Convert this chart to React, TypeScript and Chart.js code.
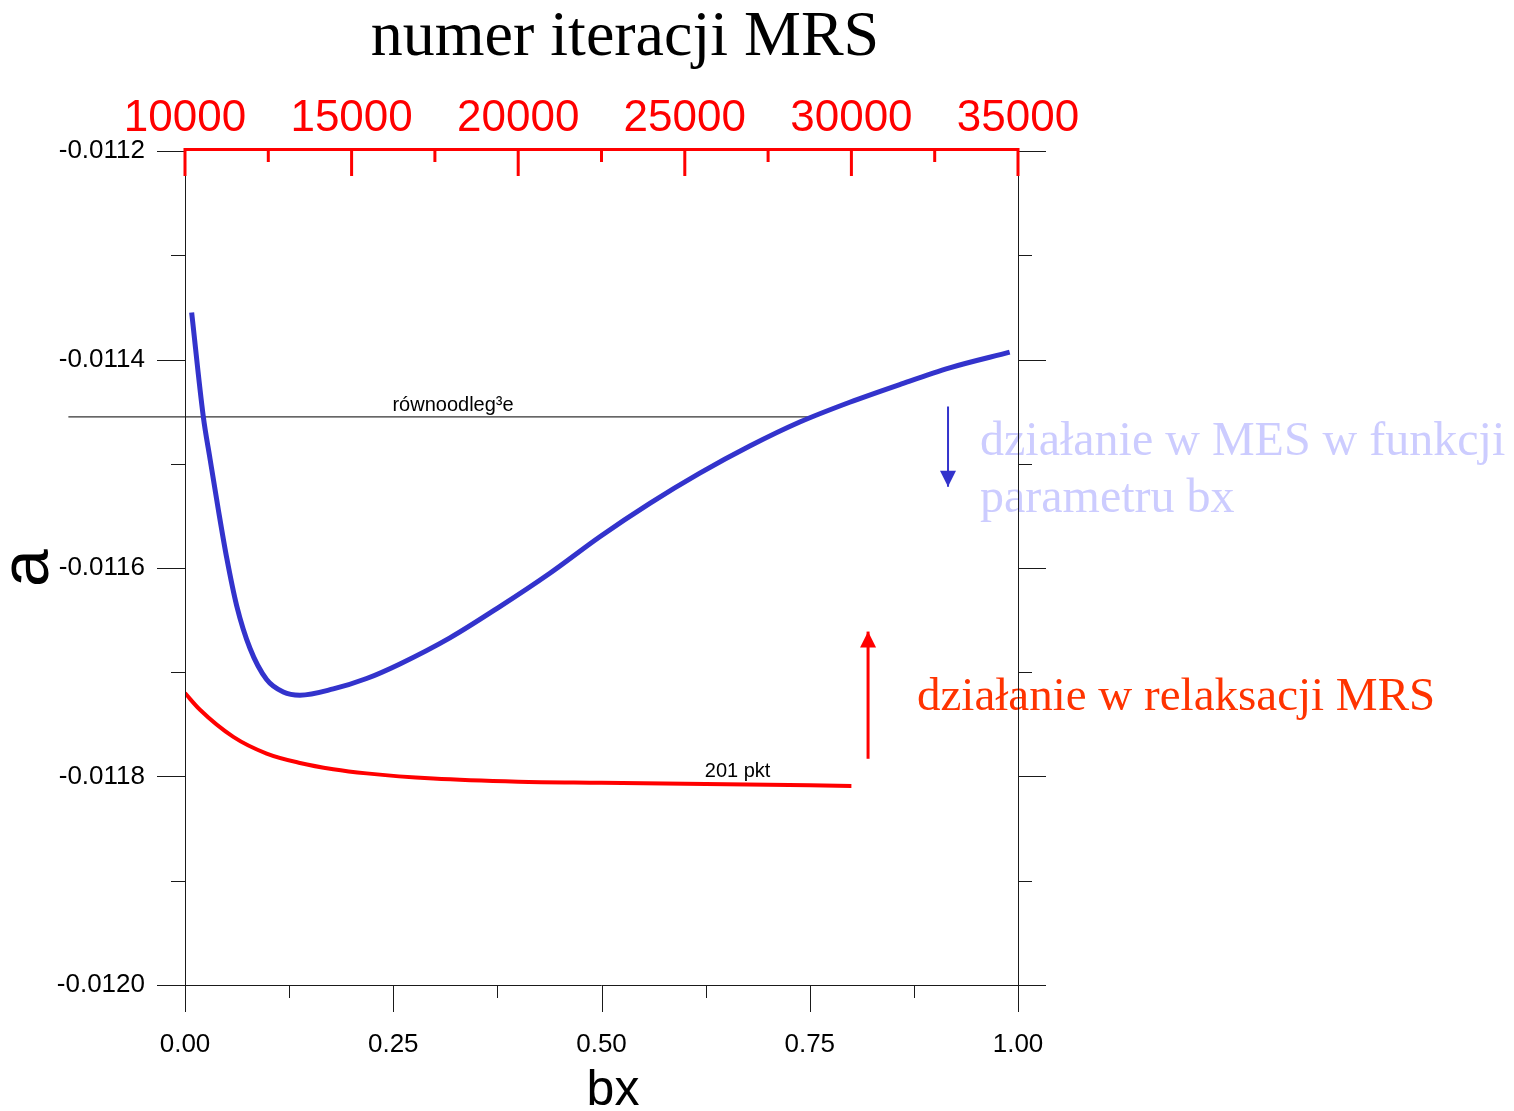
import { useEffect, useRef } from "react";
import { Chart, registerables } from "chart.js";

Chart.register(...registerables);

// Axis ticks
const bxTicks = [0, 0.25, 0.5, 0.75, 1.0];
const bxMinorTicks = [0.125, 0.375, 0.625, 0.875];
const aTicks = [-0.012, -0.0118, -0.0116, -0.0114, -0.0112];
const aMinorTicks = [-0.0119, -0.0117, -0.0115, -0.0113];
const iterTicks = [10000, 15000, 20000, 25000, 30000, 35000];
const iterMinorTicks = [12500, 17500, 22500, 27500, 32500];

// MES: parameter a as a function of bx
const mesBx = [
  0.008, 0.022, 0.03, 0.04, 0.05, 0.062, 0.078, 0.098, 0.118, 0.138, 0.178,
  0.218, 0.258, 0.318, 0.378, 0.438, 0.498, 0.558, 0.618, 0.678, 0.738, 0.798,
  0.858, 0.918, 0.99,
];
const mesA = [
  -0.011355, -0.011455, -0.011495, -0.011544, -0.01159, -0.011636, -0.011677,
  -0.011707, -0.011719, -0.011722, -0.011716, -0.011706, -0.011692, -0.011667,
  -0.011637, -0.011605, -0.01157, -0.011538, -0.011509, -0.011483, -0.01146,
  -0.011441, -0.011424, -0.011408, -0.011393,
];

// MRS relaxation (201 points), plotted against bx
const mrsBx = [0, 0.018, 0.058, 0.098, 0.138, 0.178, 0.218, 0.298, 0.4, 0.5, 0.6, 0.7, 0.8];
const mrsA = [
  -0.01172, -0.011736, -0.011762, -0.011778, -0.011787, -0.011793, -0.011797,
  -0.011802, -0.011805, -0.011806, -0.011807, -0.011808, -0.011809,
];

// Equidistant reference level
const equalBx = [-0.14, 0.752];
const equalA = [-0.011455, -0.011455];

// Direction arrows: [start, tip]
const mesArrowBx = [0.916, 0.916];
const mesArrowA = [-0.011445, -0.011522];
const mrsArrowBx = [0.82, 0.82];
const mrsArrowA = [-0.011783, -0.011661];

const SANS = "'Liberation Sans', Arial, sans-serif";
const SERIF = "'Liberation Serif', 'Times New Roman', serif";

const pts = (xs: number[], ys: number[]) => xs.map((x, i) => ({ x, y: ys[i] }));

const framePlugin = {
  id: "frame",
  afterDraw(chart: any) {
    const { ctx, chartArea } = chart;
    const { left, right, top, bottom } = chartArea;
    const xs = chart.scales.x;
    const ys = chart.scales.y;
    const xt = chart.scales.x2;
    const h = (v: number) => Math.round(v) + 0.5;

    ctx.save();

    // titles and annotations
    ctx.textBaseline = "alphabetic";
    ctx.fillStyle = "#000";
    ctx.font = `64px ${SERIF}`;
    ctx.textAlign = "center";
    ctx.fillText("numer iteracji MRS", 625, 55);

    ctx.font = `50px ${SANS}`;
    ctx.fillText("bx", 613, 1105);

    ctx.textAlign = "left";
    ctx.font = `20px ${SANS}`;
    ctx.fillText("równoodleg³e", xs.getPixelForValue(0.249), ys.getPixelForValue(equalA[0]) - 6);
    ctx.fillText("201 pkt", xs.getPixelForValue(0.624), ys.getPixelForValue(mrsA[mrsA.length - 1]) - 9);

    ctx.font = `48px ${SERIF}`;
    ctx.fillStyle = "#ccccff";
    ctx.fillText("działanie w MES w funkcji", 980, 455);
    ctx.fillText("parametru bx", 980, 512);

    ctx.font = `47px ${SERIF}`;
    ctx.fillStyle = "#ff3300";
    ctx.fillText("działanie w relaksacji MRS", 917, 710);

    // arrow heads
    const head = (bx: number, a: number, dir: number, color: string) => {
      const px = xs.getPixelForValue(bx);
      const py = ys.getPixelForValue(a);
      ctx.fillStyle = color;
      ctx.beginPath();
      ctx.moveTo(px, py);
      ctx.lineTo(px - 8, py - dir * 16);
      ctx.lineTo(px + 8, py - dir * 16);
      ctx.closePath();
      ctx.fill();
    };
    head(mesArrowBx[1], mesArrowA[1], 1, "#3333cc");
    head(mrsArrowBx[1], mrsArrowA[1], -1, "#ff0000");

    // black frame and ticks
    ctx.lineWidth = 1;
    ctx.strokeStyle = "#1a1a1a";
    ctx.beginPath();
    ctx.moveTo(h(left), top);
    ctx.lineTo(h(left), bottom);
    ctx.moveTo(h(right), top);
    ctx.lineTo(h(right), bottom);
    ctx.moveTo(left, h(bottom));
    ctx.lineTo(right, h(bottom));
    for (const v of aTicks) {
      const py = h(ys.getPixelForValue(v));
      ctx.moveTo(left - 28, py);
      ctx.lineTo(left, py);
      ctx.moveTo(right, py);
      ctx.lineTo(right + 28, py);
    }
    for (const v of aMinorTicks) {
      const py = h(ys.getPixelForValue(v));
      ctx.moveTo(left - 14, py);
      ctx.lineTo(left, py);
      ctx.moveTo(right, py);
      ctx.lineTo(right + 14, py);
    }
    for (const v of bxTicks) {
      const px = h(xs.getPixelForValue(v));
      ctx.moveTo(px, bottom);
      ctx.lineTo(px, bottom + 27);
    }
    for (const v of bxMinorTicks) {
      const px = h(xs.getPixelForValue(v));
      ctx.moveTo(px, bottom);
      ctx.lineTo(px, bottom + 13);
    }
    ctx.stroke();

    // red iteration axis on top, ticks pointing inward
    ctx.strokeStyle = "#ff0000";
    ctx.lineWidth = 3;
    ctx.beginPath();
    ctx.moveTo(left - 1.5, top - 1.5);
    ctx.lineTo(right + 1.5, top - 1.5);
    for (const v of iterTicks) {
      const px = xt.getPixelForValue(v);
      ctx.moveTo(px, top - 1.5);
      ctx.lineTo(px, top + 25);
    }
    for (const v of iterMinorTicks) {
      const px = xt.getPixelForValue(v);
      ctx.moveTo(px, top - 1.5);
      ctx.lineTo(px, top + 11);
    }
    ctx.stroke();

    ctx.restore();
  },
};

export default function App() {
  const canvasRef = useRef<HTMLCanvasElement | null>(null);

  useEffect(() => {
    const canvas = canvasRef.current;
    if (!canvas) return;
    const fixTicks = (values: number[]) => (scale: any) => {
      scale.ticks = values.map((value) => ({ value }));
    };
    const chart = new Chart(canvas, {
      type: "line",
      data: {
        datasets: [
          {
            label: "MES",
            data: pts(mesBx, mesA),
            borderColor: "#3333cc",
            borderWidth: 5,
            pointRadius: 0,
            cubicInterpolationMode: "monotone",
            fill: false,
          },
          {
            label: "MRS",
            data: pts(mrsBx, mrsA),
            borderColor: "#ff0000",
            borderWidth: 4,
            pointRadius: 0,
            cubicInterpolationMode: "monotone",
            fill: false,
          },
          {
            label: "równoodległe",
            data: pts(equalBx, equalA),
            borderColor: "#333333",
            borderWidth: 1.3,
            pointRadius: 0,
            fill: false,
            clip: false,
          },
          {
            label: "MES kierunek",
            data: pts(mesArrowBx, mesArrowA),
            borderColor: "#3333cc",
            borderWidth: 2,
            pointRadius: 0,
            fill: false,
          },
          {
            label: "MRS kierunek",
            data: pts(mrsArrowBx, mrsArrowA),
            borderColor: "#ff0000",
            borderWidth: 3,
            pointRadius: 0,
            fill: false,
          },
        ],
      } as any,
      options: {
        responsive: false,
        animation: false,
        events: [],
        layout: { padding: { left: 0, top: 0, right: 496, bottom: 0 } },
        plugins: {
          legend: { display: false },
          tooltip: { enabled: false },
          title: { display: false },
        },
        scales: {
          x: {
            type: "linear",
            position: "bottom",
            min: 0,
            max: 1,
            afterBuildTicks: fixTicks(bxTicks),
            afterFit: (s: any) => {
              s.height = 126;
            },
            grid: { display: false, drawTicks: false, tickLength: 0 },
            border: { display: false },
            ticks: {
              callback: (v: any) => Number(v).toFixed(2),
              color: "#000",
              font: { family: SANS, size: 26, lineHeight: 1 },
              padding: 47,
              maxRotation: 0,
              autoSkip: false,
            },
          },
          x2: {
            type: "linear",
            position: "top",
            min: 10000,
            max: 35000,
            afterBuildTicks: fixTicks(iterTicks),
            afterFit: (s: any) => {
              s.height = 151;
            },
            grid: { display: false, drawTicks: false, tickLength: 0 },
            border: { display: false },
            ticks: {
              callback: (v: any) => String(v),
              color: "#ff0000",
              font: { family: SANS, size: 44, lineHeight: 1 },
              padding: 10,
              maxRotation: 0,
              autoSkip: false,
            },
          },
          y: {
            type: "linear",
            position: "left",
            min: -0.012,
            max: -0.0112,
            afterBuildTicks: fixTicks(aTicks),
            afterFit: (s: any) => {
              s.width = 185;
            },
            grid: { display: false, drawTicks: false, tickLength: 0 },
            border: { display: false },
            ticks: {
              callback: (v: any) => Number(v).toFixed(4),
              color: "#000",
              font: { family: SANS, size: 26, lineHeight: 1 },
              padding: 40,
              autoSkip: false,
            },
            title: {
              display: true,
              text: "a",
              color: "#000",
              font: { family: SANS, size: 68, lineHeight: 0.8 },
              padding: { top: 2, bottom: 0 },
            },
          },
        },
      } as any,
      plugins: [framePlugin],
    });
    return () => chart.destroy();
  }, []);

  return (
    <div
      style={{
        position: "fixed",
        left: 0,
        top: 0,
        width: 1514,
        height: 1111,
        background: "#ffffff",
      }}
    >
      <canvas ref={canvasRef} width={1514} height={1111} style={{ display: "block" }} />
    </div>
  );
}
